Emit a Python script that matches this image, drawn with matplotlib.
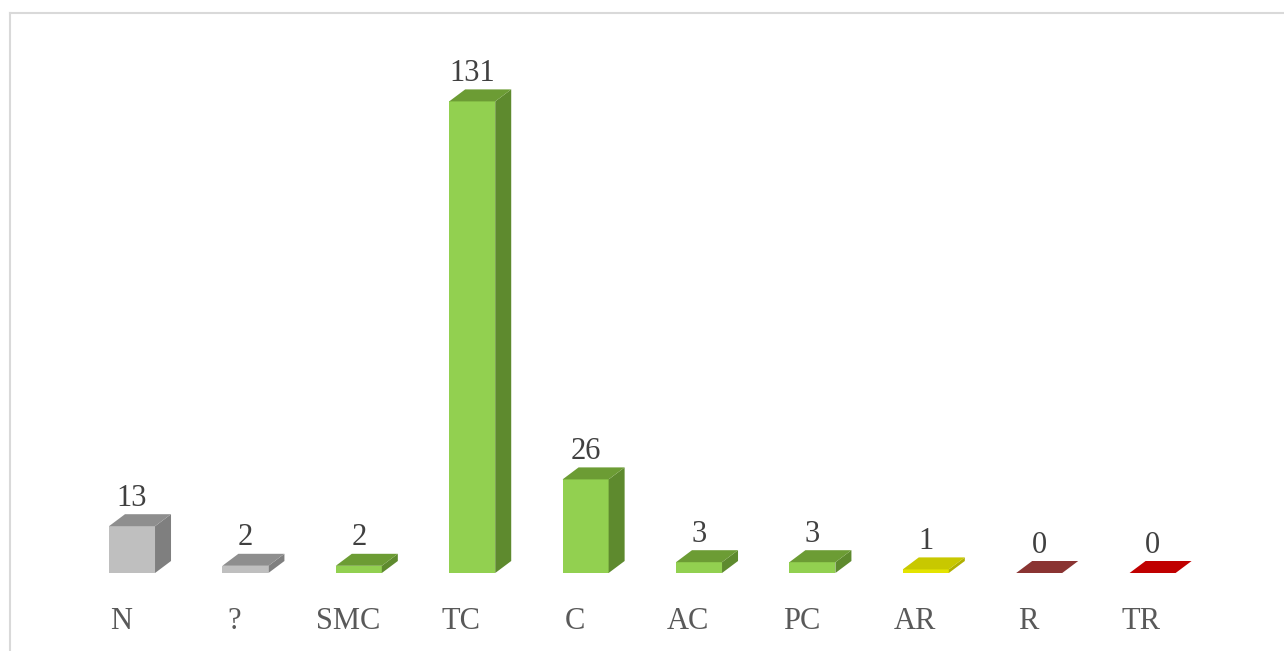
import matplotlib
matplotlib.use("Agg")
import matplotlib.pyplot as plt
from matplotlib.patches import Polygon
from matplotlib.lines import Line2D

# Data
categories = ["N", "?", "SMC", "TC", "C", "AC", "PC", "AR", "R", "TR"]
counts = [13, 2, 2, 131, 26, 3, 3, 1, 0, 0]

# colours per bar: (front, top, side)
grey = ("#BFBFBF", "#8E8E8E", "#7F7F7F")
green = ("#92D050", "#6C9C34", "#5E8A2E")
yellow = ("#E4E400", "#C8C800", "#B0B000")
brown = ("#953735", "#8A3432", "#6E2826")
red = ("#C00000", "#C00000", "#A00000")
bar_colors = [grey, grey, green, green, green, green, green, yellow, brown, red]

W, H = 1284, 651
fig = plt.figure(figsize=(W / 100, H / 100), dpi=100)

# axes placed in pixels: baseline at y=573 from top, 3.6 px per unit
x0_px, px_per_cat = 132, 113.4
base_px, px_per_unit = 573, 3.6
ymax = 140
left = x0_px - px_per_cat / 2
ax = fig.add_axes([left / W, (H - base_px) / H,
                   px_per_cat * 10 / W, ymax * px_per_unit / H])
ax.set_xlim(-0.5, 9.5)
ax.set_ylim(0, ymax)
ax.axis("off")

half_w = 0.203          # half of front face width (categories)
dx = 16 / px_per_cat    # depth offset in x
dy = 12 / px_per_unit   # depth offset in y

for i, (v, (cf, ct, cs)) in enumerate(zip(counts, bar_colors)):
    xl, xr = i - half_w, i + half_w
    if v > 0:
        ax.add_patch(Polygon([(xl, 0), (xr, 0), (xr, v), (xl, v)],
                             closed=True, fc=cf, ec="none", clip_on=False))
        ax.add_patch(Polygon([(xr, 0), (xr + dx, dy), (xr + dx, v + dy), (xr, v)],
                             closed=True, fc=cs, ec="none", clip_on=False))
    ax.add_patch(Polygon([(xl, v), (xr, v), (xr + dx, v + dy), (xl + dx, v + dy)],
                         closed=True, fc=ct, ec="none", clip_on=False))
    ax.annotate(str(v), (i, v + dy), xytext=(0, 1), textcoords="offset points",
                ha="center", va="bottom", fontsize=22,
                family="Liberation Serif", color="#404040", annotation_clip=False)
    ax.annotate(categories[i], (i, 0), xytext=(-8, -35), textcoords="offset points",
                ha="center", va="center", fontsize=22,
                family="Liberation Serif", color="#595959", annotation_clip=False)

# light chart border (top and left only are visible)
fig.add_artist(Line2D([9.5 / W, 9.5 / W], [0, 1 - 13 / H], color="#D9D9D9", lw=1.5))
fig.add_artist(Line2D([9.5 / W, 1], [1 - 13 / H, 1 - 13 / H], color="#D9D9D9", lw=1.5))

fig.savefig("out.png", dpi=100)
